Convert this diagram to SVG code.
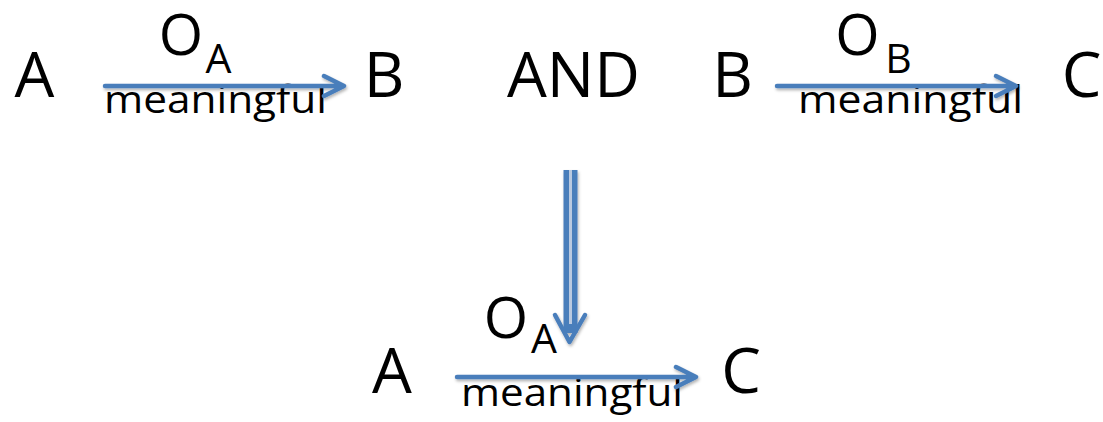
<svg xmlns="http://www.w3.org/2000/svg" width="1103" height="422" viewBox="0 0 1103 422">
<style>
text{font-family:"Open Sans","Noto Sans",sans-serif;fill:#000}
.big{font-size:63px;text-anchor:middle}
.o{font-size:57px;text-anchor:middle}
.sub{font-size:41px;text-anchor:middle}
.lbl{font-size:38px}
.arr{fill:none;stroke:#4A7EBB;stroke-width:4.5;stroke-linecap:round;stroke-linejoin:round}
</style>
<defs>
<filter id="sh" x="-10%" y="-50%" width="120%" height="200%">
<feDropShadow dx="1" dy="2" stdDeviation="1.5" flood-color="#000" flood-opacity="0.3"/>
</filter>
</defs>
<rect width="1103" height="422" fill="#fff"/>
<g id="node-A1"><text class="big" x="34.5" y="97">A</text></g>
<g id="node-B1"><text class="big" x="384" y="97">B</text></g>
<g id="node-AND"><text class="big" x="573.5" y="97">AND</text></g>
<g id="node-B2"><text class="big" x="732.5" y="97">B</text></g>
<g id="node-C1"><text class="big" x="1081.5" y="97">C</text></g>
<g id="node-A2"><text class="big" x="392" y="393">A</text></g>
<g id="node-C2"><text class="big" x="741" y="393">C</text></g>
<g id="labels">
<text class="o" x="181" y="55">O</text><text class="sub" x="218.5" y="73">A</text>
<text class="lbl" x="104" y="113" textLength="223" lengthAdjust="spacingAndGlyphs">meaningful</text>
<text class="o" x="857.5" y="55">O</text><text class="sub" x="898.5" y="73">B</text>
<text class="lbl" x="798" y="113" textLength="225" lengthAdjust="spacingAndGlyphs">meaningful</text>
<text class="o" x="506" y="338">O</text><text class="sub" x="544" y="353">A</text>
<text class="lbl" x="461" y="406" textLength="222" lengthAdjust="spacingAndGlyphs">meaningful</text>
</g>
<g id="connectors" filter="url(#sh)">
<path class="arr" d="M105 86H343M324 76L344 86L324 96"/>
<path class="arr" d="M777 86H1015M996 76L1016 86L996 96"/>
<path class="arr" d="M457 377H695M676 367L696 377L676 387"/>
<path d="M570.5 170V333" stroke="#4A7EBB" stroke-width="14" fill="none"/>
<path d="M570.5 170V324" stroke="#B9C9E0" stroke-width="3" fill="none"/>
<path class="arr" d="M555 315L569.5 342L585 315" stroke-width="6"/>
</g>
</svg>
